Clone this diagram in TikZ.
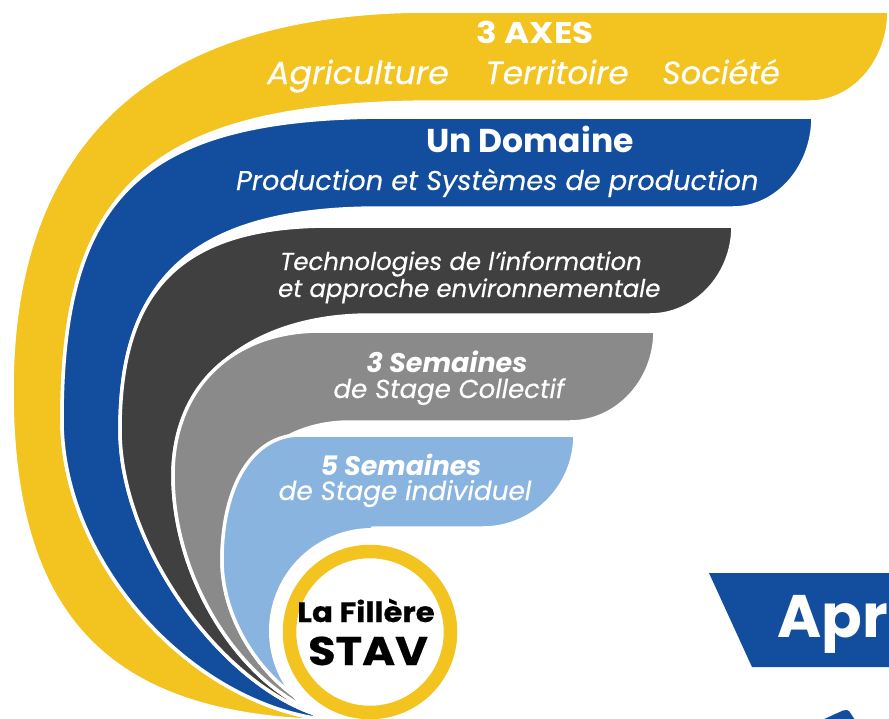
\documentclass[tikz,border=0pt]{standalone}
\usepackage{graphicx}
\usepackage{fontspec}
\setmainfont{Poppins}
\newfontfamily\medfam{Poppins}[FakeBold=0.3]
\newfontfamily\heavyfam{Poppins}[FakeBold=0.5]
\definecolor{cyel}{HTML}{F3C320}
\definecolor{cblue}{HTML}{134E9E}
\definecolor{cdark}{HTML}{404040}
\definecolor{cgray}{HTML}{8A8A8A}
\definecolor{clight}{HTML}{8AB4E0}
\begin{document}
\begin{tikzpicture}[x=1pt,y=-1pt,
  band/.style={draw=white,line width=3.5pt,line join=round},
  wtxt/.style={text=white,inner sep=0pt,anchor=base},
  ktxt/.style={text=black,inner sep=0pt,anchor=base}]
\path[use as bounding box] (0,0) rectangle (889,718);
\clip (0,0) rectangle (889,718);
% yellow band
\path[band,fill=cyel] (345,721) .. controls (111.9,721) and (12,621.7) .. (12,390)
 .. controls (12,139.9) and (154.1,11) .. (430,11)
 -- (889,11) .. controls (889,61.2) and (853.6,102) .. (810,102)
 -- (440,102) .. controls (156.5,102) and (62,181.5) .. (62,420)
 .. controls (62,570.5) and (206,721) .. (350,721) -- cycle;
% blue band
\path[band,fill=cblue] (350,721) .. controls (206,721) and (62,570.5) .. (62,420)
 .. controls (62,192.75) and (144,117) .. (390,117)
 -- (813,117) .. controls (813,167.2) and (777.2,208) .. (733,208)
 -- (380,208) .. controls (198,208) and (120,274.6) .. (120,430)
 .. controls (120,561) and (249.25,721) .. (355,721) -- cycle;
% dark band
\path[band,fill=cdark] (355,721) .. controls (249.25,721) and (120,561) .. (120,430)
 .. controls (120,287.2) and (183,226) .. (330,226)
 -- (733,226) .. controls (733,275.1) and (695.8,315) .. (650,315)
 -- (370,315) .. controls (251.8,315) and (173,379) .. (173,475)
 .. controls (173,598) and (266.5,721) .. (360,721) -- cycle;
% gray band
\path[band,fill=cgray] (360,721) .. controls (266.5,721) and (173,598) .. (173,475)
 .. controls (173,388.6) and (231.8,331) .. (320,331)
 -- (655,331) .. controls (655,381.2) and (616.9,422) .. (570,422)
 -- (350,422) .. controls (273.2,422) and (222,477.2) .. (222,560)
 .. controls (222,640.5) and (293.5,721) .. (365,721) -- cycle;
% light blue band
\path[band,fill=clight] (365,721) .. controls (293.5,721) and (222,640.5) .. (222,560)
 .. controls (222,485) and (253.2,435) .. (300,435)
 -- (575,435) .. controls (575,486.3) and (533.8,528) .. (483,528)
 -- (372,528) -- (372,600) -- cycle;
% hole and ring
\fill[white] (372,631) circle[radius=103pt];
\draw[cyel,line width=13.5pt,fill=white] (370,632) circle[radius=80.5pt];
% texts
\node[wtxt,font=\bfseries\fontsize{30}{32}\selectfont] (axes) at (535,43) {\scalebox{1.14}[1]{3 AXES}};
\node[wtxt,anchor=base west,font=\medfam\itshape\fontsize{32}{34}\selectfont] (agri) at (267,84) {\scalebox{1.04}[1]{Agriculture}};
\node[wtxt,anchor=base west,font=\medfam\itshape\fontsize{32}{34}\selectfont] (terr) at (485,84) {\scalebox{1.02}[1]{Territoire}};
\node[wtxt,anchor=base west,font=\medfam\itshape\fontsize{32}{34}\selectfont] (soc) at (662,84) {Société};
\node[wtxt,font=\bfseries\fontsize{33}{35}\selectfont] (dom) at (530,152) {Un Domaine};
\node[wtxt,anchor=base west,font=\medfam\itshape\fontsize{27.2}{30}\selectfont] (prod) at (236,190) {Production et Systèmes de production};
\node[wtxt,anchor=base west,font=\medfam\itshape\fontsize{24.4}{26}\selectfont] (tech1) at (280,270) {Technologies de l’information};
\node[wtxt,anchor=base west,font=\medfam\itshape\fontsize{24.4}{26}\selectfont] (tech2) at (278,297) {et approche environnementale};
\node[wtxt,font=\bfseries\itshape\fontsize{27}{29}\selectfont] (sem3) at (447,372) {3 Semaines};
\node[wtxt,font=\medfam\itshape\fontsize{26}{28}\selectfont] (coll) at (449,398) {de Stage Collectif};
\node[wtxt,font=\bfseries\itshape\fontsize{26.8}{28}\selectfont] (sem5) at (401,475) {5 Semaines};
\node[wtxt,font=\medfam\itshape\fontsize{26.3}{28}\selectfont] (indiv) at (405,500) {de Stage individuel};
\node[ktxt,font=\heavyfam\bfseries\fontsize{28}{30}\selectfont] (fil) at (366,622) {\scalebox{1.1}[1]{La Fillère}};
\node[ktxt,font=\heavyfam\bfseries\fontsize{40}{42}\selectfont] (stav) at (368,665) {\scalebox{1.12}[1]{STAV}};
% bottom right
\fill[cblue] (709,573) -- (895,573) -- (895,667) -- (752,667) -- cycle;
\node[wtxt,anchor=base west,font=\bfseries\fontsize{60}{62}\selectfont] (apr) at (777,637) {Apr};
\fill[cblue] (822,720) -- (843,710.5) .. controls (846,709.5) and (848,710) .. (849,711) -- (855,720) -- cycle;
\end{tikzpicture}
\end{document}
